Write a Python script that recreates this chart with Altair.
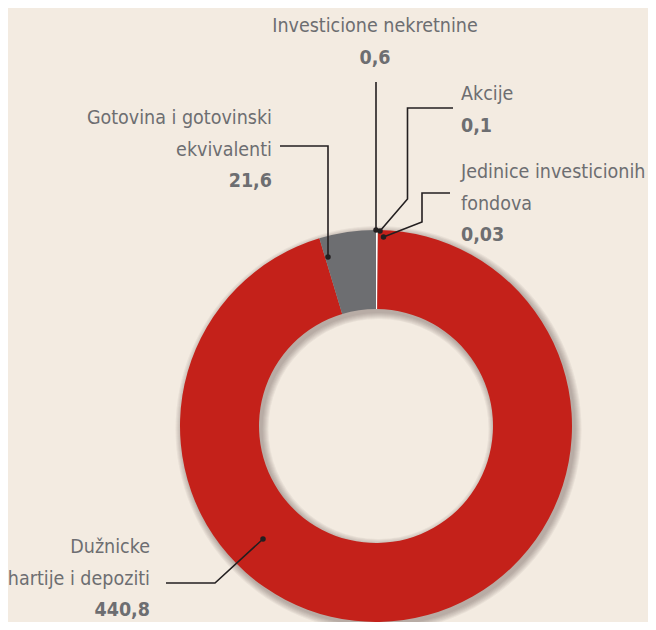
import altair as alt
import pandas as pd

# ---- data ----
categories = [
    "Investicione nekretnine",
    "Akcije",
    "Jedinice investicionih fondova",
    "Dužnicke hartije i depoziti",
    "Gotovina i gotovinski ekvivalenti",
]
values = [0.6, 0.1, 0.03, 440.8, 21.6]
value_labels = ["0,6", "0,1", "0,03", "440,8", "21,6"]
label_lines = [
    ["Investicione nekretnine"],
    ["Akcije"],
    ["Jedinice investicionih", "fondova"],
    ["Dužnicke", "hartije i depoziti"],
    ["Gotovina i gotovinski", "ekvivalenti"],
]

# ---- styling / layout ----
colors = ["#FFFFFF", "#F4F4F4", "#E8E8E8", "#C4211A", "#6D6E71"]
BG = "#F3EBE1"
TEXT = "#6D6E71"
INK = "#231F20"
FONT = "DejaVu Sans Condensed, sans-serif"
FS = 19.5
LH = 31.5
CX, CY = 368, 418
R_OUT, R_IN = 196, 117

# label anchor: (x, first baseline, align) in chart pixels
anchors = [
    (367, 24, "center"),
    (453, 92, "left"),
    (453, 170, "left"),
    (142, 545, "right"),
    (264, 116, "right"),
]
# leader line polylines (chart pixels), last point = dot
leaders = [
    [(368, 74), (368, 222)],
    [(445, 100), (399.5, 100), (399.5, 191), (372, 223)],
    [(442, 185), (414, 185), (414, 214), (375.5, 229)],
    [(158, 575), (207, 575), (255, 531)],
    [(272, 138), (320, 138), (320, 249)],
]

W, H = 640, 614

df = pd.DataFrame({"cat": categories, "value": values, "order": list(range(len(values)))})

# shadow rings
shadow_rows = []
for k in range(1, 8):
    shadow_rows.append({"k": k, "ro": R_OUT + k, "ri": R_IN - k})
shadow_df = pd.DataFrame(shadow_rows)
shadow = (
    alt.Chart(shadow_df)
    .mark_arc(color="#3a3028", opacity=0.05, strokeWidth=0)
    .encode(
        theta=alt.value(0),
        theta2=alt.value(6.2832),
        radius=alt.Radius("ro:Q", scale=None),
        radius2=alt.Radius2("ri:Q"),
        x=alt.value(CX + 2.5),
        y=alt.value(CY + 3),
        detail="k:N",
    )
)

donut = (
    alt.Chart(df)
    .mark_arc(outerRadius=R_OUT, innerRadius=R_IN, strokeWidth=0)
    .encode(
        theta=alt.Theta("value:Q", stack=True),
        order=alt.Order("order:Q"),
        color=alt.Color(
            "cat:N",
            scale=alt.Scale(domain=categories, range=colors),
            legend=None,
        ),
        x=alt.value(CX),
        y=alt.value(CY),
    )
)

# text rows
text_rows = []
for i, cat in enumerate(categories):
    ax, ay, al = anchors[i]
    lines = label_lines[i]
    for j, ln in enumerate(lines):
        text_rows.append({"t": ln, "x": ax, "y": ay + j * LH, "align": al, "bold": 0})
    text_rows.append({"t": value_labels[i], "x": ax, "y": ay + len(lines) * LH, "align": al, "bold": 1})
tdf = pd.DataFrame(text_rows)

texts = []
for al in ["left", "center", "right"]:
    for b in [0, 1]:
        sub = tdf[(tdf["align"] == al) & (tdf["bold"] == b)]
        if len(sub) == 0:
            continue
        texts.append(
            alt.Chart(sub)
            .mark_text(
                align=al,
                baseline="alphabetic",
                font=FONT,
                fontSize=FS,
                fontWeight="bold" if b else "normal",
                color=TEXT,
            )
            .encode(
                x=alt.X("x:Q", scale=None),
                y=alt.Y("y:Q", scale=None),
                text="t:N",
            )
        )

# leader lines
lrows = []
drows = []
for i, pts in enumerate(leaders):
    for j, (px, py) in enumerate(pts):
        lrows.append({"id": i, "o": j, "x": px, "y": py})
    drows.append({"x": pts[-1][0], "y": pts[-1][1]})
ldf = pd.DataFrame(lrows)
ddf = pd.DataFrame(drows)

lines = (
    alt.Chart(ldf)
    .mark_line(color=INK, strokeWidth=1.6)
    .encode(
        x=alt.X("x:Q", scale=None),
        y=alt.Y("y:Q", scale=None),
        detail="id:N",
        order="o:Q",
    )
)
dots = (
    alt.Chart(ddf)
    .mark_point(filled=True, color=INK, size=30, opacity=1)
    .encode(x=alt.X("x:Q", scale=None), y=alt.Y("y:Q", scale=None))
)

chart = (
    alt.layer(shadow, donut, lines, dots, *texts)
    .properties(width=W, height=H, background=BG, padding=0)
    .configure_view(stroke=None)
)
chart = chart.properties(autosize=alt.AutoSizeParams(type="none"))

chart.save("out.html", embed_options={"renderer": "svg", "actions": False})
